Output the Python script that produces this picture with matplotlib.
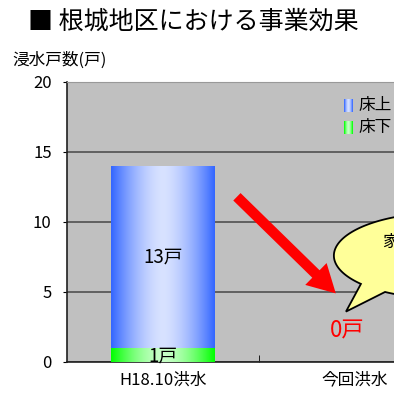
import numpy as np
import matplotlib.pyplot as plt
from matplotlib.colors import to_rgb
from matplotlib.patches import Polygon

plt.rcParams['font.family'] = ['Noto Sans CJK JP', 'DejaVu Sans']

# flooded houses per event
events = ['H18.10洪水', '今回洪水']
below_floor = [1, 0]    # 床下
above_floor = [13, 0]   # 床上
series_names = ['床上', '床下']
yticks = [0, 5, 10, 15, 20]

blue_edge, blue_mid = '#3366ff', '#d8e2ff'
green_edge, green_mid = '#00ff00', '#c8ffc8'


def gradient(edge, mid, n=200):
    # dark at both sides, pale in the middle (cylinder look)
    t = np.abs(np.linspace(-1, 1, n))
    w = t ** 1.6
    e, m = np.array(to_rgb(edge)), np.array(to_rgb(mid))
    return (m[None, :] * (1 - w[:, None]) + e[None, :] * w[:, None])[None, :, :]


fig = plt.figure(figsize=(3.94, 3.96), dpi=100)
ax = fig.add_axes([67/394, 34/396, 384/394, 280/396])
ax.set_facecolor('#c0c0c0')

x = np.arange(len(events))
b_low = ax.bar(x, below_floor, width=0.54, color='none', zorder=3)
b_up = ax.bar(x, above_floor, width=0.54, bottom=below_floor, color='none', zorder=3)

for bars, edge, mid in [(b_low, green_edge, green_mid), (b_up, blue_edge, blue_mid)]:
    for r in bars:
        if r.get_height() <= 0:
            continue
        ax.imshow(gradient(edge, mid), aspect='auto', zorder=3,
                  extent=[r.get_x(), r.get_x() + r.get_width(),
                          r.get_y(), r.get_y() + r.get_height()])

# value labels
ax.text(x[0], below_floor[0] + above_floor[0] / 2, f'{above_floor[0]}戸',
        ha='center', va='center', fontsize=13.5, zorder=5)
ax.text(x[0], below_floor[0] / 2 - 0.1, f'{below_floor[0]}戸',
        ha='center', va='center', fontsize=13.5, zorder=5)
ax.text(0.958, 2.25, f'{above_floor[1] + below_floor[1]}戸', color='red',
        ha='center', va='center', fontsize=16, zorder=5)

# red arrow towards the second event
ax.annotate('', xy=(0.9, 4.9), xytext=(0.385, 11.8),
            arrowprops=dict(arrowstyle='simple,head_width=2.2,head_length=2.0,'
                                       'tail_width=0.75',
                            mutation_scale=10, color='#ff0000', lw=0,
                            shrinkA=0, shrinkB=0),
            zorder=4)

# speech bubble
cx, cy, rx, ry = 1.45, 7.6, 0.56, 3.05
ang = np.linspace(0, 2 * np.pi, 300)
ex, ey = cx + rx * np.cos(ang), cy + ry * np.sin(ang)
a1, a2 = np.deg2rad(222), np.deg2rad(238)
arc1 = [(px, py) for a, px, py in zip(ang, ex, ey) if a <= a1]
arc2 = [(px, py) for a, px, py in zip(ang, ex, ey) if a >= a2]
bubble = arc1 + [(0.953, 3.6)] + arc2
ax.add_patch(Polygon(bubble, closed=True, fc='#ffff99', ec='black', lw=1.3,
                     zorder=4))
ax.text(1.14, 8.6, '家屋浸水被害なし', fontsize=12, va='center', ha='left',
        zorder=5)

# legend drawn by hand with gradient swatches
for i, (name, edge, mid) in enumerate([(series_names[0], blue_edge, blue_mid),
                                        (series_names[1], green_edge, green_mid)]):
    y0 = 0.915 - i * 0.078
    ax.imshow(gradient(edge, mid, 20), aspect='auto', zorder=5,
              extent=[0.722, 0.743, y0 - 0.022, y0 + 0.022],
              transform=ax.transAxes)
    ax.text(0.76, y0, name, transform=ax.transAxes, fontsize=12,
            va='center', ha='left', zorder=5)

ax.set_xlim(-0.5, 1.5)
ax.set_ylim(0, 20)
ax.set_yticks(yticks)
ax.set_yticklabels([str(v) for v in yticks], fontsize=12)
ax.set_xticks(x)
ax.set_xticklabels(events, fontsize=12)
ax.set_xticks([0.5], minor=True)
ax.tick_params(axis='x', which='major', length=0, pad=7)
ax.tick_params(axis='x', which='minor', direction='in', length=5)
ax.tick_params(axis='y', length=3, pad=8)
ax.grid(axis='y', color='#505050', lw=1.2, zorder=1)
ax.set_axisbelow(True)
for s in ['left', 'bottom']:
    ax.spines[s].set_color('#202020')
    ax.spines[s].set_linewidth(1.2)
ax.spines['top'].set_color('#999999')
ax.spines['right'].set_visible(False)

fig.text(28/394, 1 - 22/396, '■ 根城地区における事業効果', fontsize=18,
         va='center', ha='left')
fig.text(12/394, 1 - 60/396, '浸水戸数(戸)', fontsize=12, va='center',
         ha='left')

fig.savefig('out.png', dpi=100)
